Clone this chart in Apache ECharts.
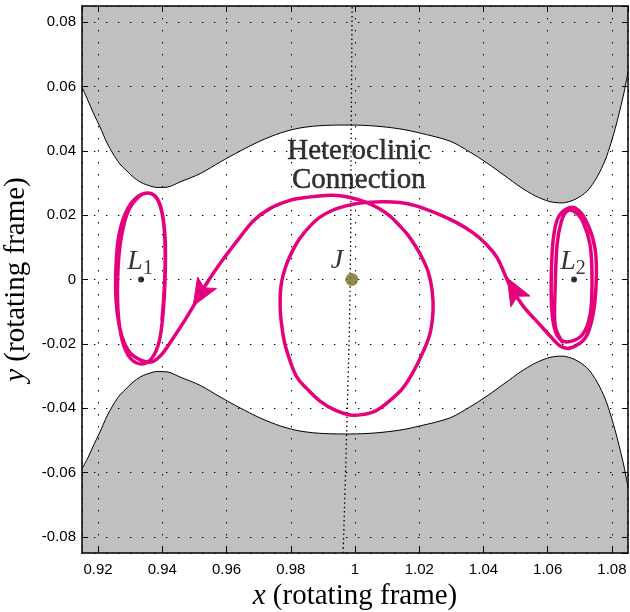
<!DOCTYPE html>
<html>
<head>
<meta charset="utf-8">
<script src="https://cdn.jsdelivr.net/npm/echarts@6/dist/echarts.min.js"></script>
<style>
  html, body { margin: 0; padding: 0; background: #fff; }
  #chart { width: 630px; height: 612px; }
</style>
</head>
<body>
<div id="chart"></div>
<script>
// Axis extents and tick spacing (rotating frame, normalized units)
const xRange = [0.915, 1.085];
const yRange = [-0.085, 0.085];
const tickStep = 0.02;

// Zero-velocity curve: forbidden-region boundaries
const zvcX = [0.915, 0.9169, 0.9187, 0.9206, 0.9228, 0.9247, 0.9268, 0.929, 0.9309, 0.9331,
  0.9352, 0.9384, 0.9415, 0.9455, 0.9518, 0.958, 0.9642, 0.9704, 0.9767, 0.9829,
  0.9907, 0.9985, 1.0062, 1.014, 1.0203, 1.0296, 1.0358, 1.0411, 1.0467, 1.0514,
  1.0561, 1.0607, 1.0645, 1.0685, 1.0723, 1.0754, 1.0779, 1.0797, 1.0813, 1.0825,
  1.0838, 1.085];
const zvcUpperY = [0.0598, 0.0555, 0.0514, 0.0474, 0.0424, 0.0390, 0.0359, 0.0337, 0.0319, 0.0303,
  0.0294, 0.0286, 0.0287, 0.0303, 0.0329, 0.0365, 0.0399, 0.0430, 0.0455, 0.0471,
  0.0479, 0.0480, 0.0477, 0.0468, 0.0455, 0.0430, 0.0396, 0.0362, 0.0322, 0.0288,
  0.0260, 0.0242, 0.0238, 0.0249, 0.0275, 0.0319, 0.0371, 0.0424, 0.0480, 0.0527,
  0.0583, 0.0645];
const zvcLowerY = [-0.0588, -0.0553, -0.0513, -0.0474, -0.0424, -0.0390, -0.0359, -0.0337, -0.0319, -0.0303,
  -0.0294, -0.0286, -0.0287, -0.0303, -0.0329, -0.0365, -0.0399, -0.0430, -0.0455, -0.0471,
  -0.0479, -0.0480, -0.0477, -0.0468, -0.0455, -0.0430, -0.0396, -0.0362, -0.0322, -0.0288,
  -0.0260, -0.0242, -0.0238, -0.0249, -0.0275, -0.0319, -0.0371, -0.0424, -0.0480, -0.0527,
  -0.0583, -0.0645];

// Dotted section line near the planet
const sectionX = [0.9963, 0.9975, 0.9985, 0.9988, 0.9991];
const sectionY = [-0.085, -0.0437, 0, 0.0433, 0.085];

// Heteroclinic trajectory: L2 orbit -> around Jupiter -> L1 orbit
const trajX = [
  1.0645, 1.0623,
  1.0623, 1.0629, 1.0642, 1.0660, 1.0685, 1.0710, 1.0732, 1.0738, 1.0732, 1.0707,
  1.0660, 1.0629, 1.0614, 1.0611, 1.0617, 1.0632, 1.0664, 1.0695, 1.0726, 1.0748,
  1.0751, 1.0741, 1.0717, 1.0670, 1.0639, 1.0608, 1.0576, 1.0523, 1.0483, 1.0443,
  1.0405, 1.0368, 1.0318, 1.0265, 1.0193, 1.0140, 1.0088, 1.0016, 0.9969, 0.9932,
  0.9891, 0.9860, 0.9829, 0.9807, 0.9785, 0.9770, 0.9767, 0.9773, 0.9785, 0.9817,
  0.9854, 0.9891, 0.9938, 0.9985, 1.0022, 1.0063, 1.0103, 1.0147, 1.0181, 1.0212,
  1.0234, 1.0243, 1.0240, 1.0228, 1.0209, 1.0190, 1.0165, 1.0140, 1.0109, 1.0072,
  1.0031, 0.9985, 0.9944, 0.9907, 0.9854, 0.9798, 0.9736, 0.9683, 0.9633, 0.9586,
  0.9539, 0.9499, 0.9465, 0.9430, 0.9399, 0.9368, 0.9331, 0.9293, 0.9269, 0.9256,
  0.9256, 0.9265, 0.9287, 0.9318, 0.9353, 0.9381, 0.9399, 0.9409, 0.9409, 0.9402,
  0.9390, 0.9368, 0.9337, 0.9300, 0.9275, 0.9262, 0.9262, 0.9272, 0.9293, 0.9325,
  0.9356, 0.9384, 0.9402, 0.9409, 0.9406, 0.9399];
const trajY = [
  -0.0194, -0.0141,
  -0.0033, 0.0107, 0.0179, 0.0213, 0.0210, 0.0179, 0.0107, -0.0002, -0.0110, -0.0173,
  -0.0194, -0.0173, -0.0110, -0.0002, 0.0123, 0.0191, 0.0222, 0.0216, 0.0169, 0.0092,
  -0.0008, -0.0110, -0.0182, -0.0213, -0.0207, -0.0176, -0.0141, -0.0082, -0.0020, 0.0067,
  0.0113, 0.0145, 0.0176, 0.0201, 0.0228, 0.0239, 0.0242, 0.0238, 0.0228, 0.0216,
  0.0194, 0.0166, 0.0129, 0.0092, 0.0042, -0.0017, -0.0086, -0.0151, -0.0213, -0.0300,
  -0.0343, -0.0378, -0.0406, -0.0421, -0.0420, -0.0409, -0.0381, -0.0340, -0.0288, -0.0225,
  -0.0166, -0.0095, -0.0033, 0.0023, 0.0067, 0.0101, 0.0138, 0.0166, 0.0197, 0.0222,
  0.0241, 0.0255, 0.0261, 0.0261, 0.0256, 0.0246, 0.0221, 0.0182, 0.0120, 0.0058,
  -0.0011, -0.0079, -0.0135, -0.0188, -0.0232, -0.0256, -0.0250, -0.0219, -0.0157, -0.0064,
  0.0045, 0.0138, 0.0210, 0.0253, 0.0269, 0.0256, 0.0210, 0.0123, 0.0014, -0.0110,
  -0.0194, -0.0244, -0.0263, -0.0244, -0.0188, -0.0095, 0.0030, 0.0129, 0.0210, 0.0256,
  0.0269, 0.0250, 0.0191, 0.0092, -0.0033, -0.0126];

// Direction arrows along the trajectory: [fromX, fromY, tipX, tipY]
const arrowHeads = [
  [0.9539, -0.0011, 0.9496, -0.0082],
  [1.0523, -0.0082, 1.0474, 0.0005]
];

// Libration points and the planet
const pointL1 = [0.9334, 0];
const pointL2 = [1.0682, 0];
const pointJ = [0.9990, 0];
const captionAnchor = [1.0012, 0.0353];
const captionText = 'Heteroclinic\nConnection';

const pink = '#e5007d';
const serif = 'Liberation Serif';
const sans = 'Liberation Sans';

const pairs = (xs, ys) => xs.map((x, i) => [x, ys[i]]);

const gridLine = { show: true, lineStyle: { color: '#000', width: 1, type: [1.4, 10.6] } };
const frameLine = { show: true, onZero: false, lineStyle: { color: '#000', width: 1.5 } };
const innerTick = { show: true, inside: true, length: 6, lineStyle: { color: '#000', width: 1 } };

// Smooth path through the projected trajectory points (Catmull-Rom as cubic Beziers)
function renderTrajectory(params, api) {
  const pts = trajX.map((x, i) => api.coord([x, trajY[i]]));
  let d = 'M' + pts[0][0] + ',' + pts[0][1];
  for (let i = 0; i < pts.length - 1; i++) {
    const p0 = pts[Math.max(i - 1, 0)], p1 = pts[i], p2 = pts[i + 1], p3 = pts[Math.min(i + 2, pts.length - 1)];
    const c1 = [p1[0] + (p2[0] - p0[0]) / 6, p1[1] + (p2[1] - p0[1]) / 6];
    const c2 = [p2[0] - (p3[0] - p1[0]) / 6, p2[1] - (p3[1] - p1[1]) / 6];
    d += 'C' + c1[0] + ',' + c1[1] + ',' + c2[0] + ',' + c2[1] + ',' + p2[0] + ',' + p2[1];
  }
  return {
    type: 'path',
    shape: { pathData: d },
    style: { fill: null, stroke: pink, lineWidth: 3.5, lineCap: 'round', lineJoin: 'round' }
  };
}

// Notched arrowhead whose tip sits on the trajectory, pointing along it
function renderArrow(params, api) {
  const a = api.coord([api.value(0), api.value(1)]);
  const b = api.coord([api.value(2), api.value(3)]);
  const len = Math.hypot(b[0] - a[0], b[1] - a[1]) || 1;
  const ux = (b[0] - a[0]) / len, uy = (b[1] - a[1]) / len;
  const nx = -uy, ny = ux;
  const L = 27, W = 11, notch = 21;
  const tip = b;
  const back1 = [tip[0] - ux * L + nx * W, tip[1] - uy * L + ny * W];
  const back2 = [tip[0] - ux * L - nx * W, tip[1] - uy * L - ny * W];
  const mid = [tip[0] - ux * notch, tip[1] - uy * notch];
  return {
    type: 'polygon',
    shape: { points: [tip, back1, mid, back2] },
    style: { fill: pink, stroke: pink, lineWidth: 1, lineJoin: 'miter' }
  };
}

function libLabel(sub) {
  return {
    show: true,
    position: 'top',
    distance: -2,
    offset: [-1, 0],
    formatter: '{a|L}{b|' + sub + '}',
    rich: {
      a: { fontFamily: serif, fontStyle: 'italic', fontSize: 28, lineHeight: 34, color: '#000' },
      b: { fontFamily: serif, fontSize: 20, lineHeight: 20, color: '#000', verticalAlign: 'bottom' }
    }
  };
}

const chart = echarts.init(document.getElementById('chart'));
chart.setOption({
  animation: false,
  backgroundColor: '#fff',
  grid: { left: 82, right: 2, top: 6, bottom: 59, containLabel: false, outerBoundsMode: 'none' },
  xAxis: [{
    type: 'value', position: 'bottom', min: xRange[0], max: xRange[1],
    minInterval: tickStep, maxInterval: tickStep, splitNumber: 8, z: 2,
    axisLine: frameLine, axisTick: innerTick, splitLine: gridLine,
    axisLabel: { showMinLabel: false, showMaxLabel: false, color: '#000', fontFamily: sans, fontSize: 15, margin: 9 },
    name: '{i|x} (rotating frame)', nameLocation: 'middle', nameGap: 21,
    nameTextStyle: { fontFamily: serif, fontSize: 29, color: '#000',
      rich: { i: { fontFamily: serif, fontStyle: 'italic', fontSize: 29, color: '#000' } } }
  }, {
    type: 'value', position: 'top', min: xRange[0], max: xRange[1],
    minInterval: tickStep, maxInterval: tickStep, splitNumber: 8, z: 2,
    axisLine: frameLine, axisTick: innerTick, splitLine: { show: false },
    axisLabel: { show: false }
  }],
  yAxis: [{
    type: 'value', position: 'left', min: yRange[0], max: yRange[1],
    minInterval: tickStep, maxInterval: tickStep, splitNumber: 8, z: 2,
    axisLine: frameLine, axisTick: innerTick, splitLine: gridLine,
    axisLabel: { showMinLabel: false, showMaxLabel: false, color: '#000', fontFamily: sans, fontSize: 15, margin: 6 },
    name: '{i|y} (rotating frame)', nameLocation: 'middle', nameGap: 43, nameRotate: 90,
    nameTextStyle: { fontFamily: serif, fontSize: 29, color: '#000',
      rich: { i: { fontFamily: serif, fontStyle: 'italic', fontSize: 29, color: '#000' } } }
  }, {
    type: 'value', position: 'right', min: yRange[0], max: yRange[1],
    minInterval: tickStep, maxInterval: tickStep, splitNumber: 8, z: 2,
    axisLine: frameLine, axisTick: innerTick, splitLine: { show: false },
    axisLabel: { show: false }
  }],
  series: [
    {
      type: 'line', z: 1, data: pairs(zvcX, zvcUpperY), showSymbol: false, smooth: 0.3,
      lineStyle: { color: '#000', width: 1 },
      areaStyle: { color: '#c0c0c0', opacity: 1, origin: 'end' }
    },
    {
      type: 'line', z: 1, data: pairs(zvcX, zvcLowerY), showSymbol: false, smooth: 0.3,
      lineStyle: { color: '#000', width: 1 },
      areaStyle: { color: '#c0c0c0', opacity: 1, origin: 'start' }
    },
    {
      type: 'line', z: 3, data: pairs(sectionX, sectionY), showSymbol: false, smooth: true,
      lineStyle: { color: '#000', width: 1.3, type: [1.5, 3] }
    },
    {
      type: 'custom', z: 4, coordinateSystem: 'cartesian2d',
      data: [[trajX[0], trajY[0]]],
      renderItem: renderTrajectory
    },
    {
      type: 'custom', z: 5, coordinateSystem: 'cartesian2d',
      data: arrowHeads,
      encode: { x: [0, 2], y: [1, 3] },
      renderItem: renderArrow
    },
    {
      type: 'scatter', z: 6, symbol: 'circle', symbolSize: 6,
      itemStyle: { color: '#000' },
      data: [
        { value: pointL1, label: libLabel('1') },
        { value: pointL2, label: libLabel('2') }
      ]
    },
    {
      type: 'scatter', z: 6, symbol: 'circle', symbolSize: 13,
      itemStyle: { color: '#7d6b1e' },
      data: [{ value: pointJ }],
      label: { show: true, position: 'left', offset: [3, -19], formatter: 'J',
        fontFamily: serif, fontStyle: 'italic', fontSize: 28, color: '#000' }
    },
    {
      type: 'scatter', z: 6, symbolSize: 0,
      data: [{ value: captionAnchor }],
      label: { show: true, position: 'inside', formatter: captionText,
        fontFamily: serif, fontSize: 29, lineHeight: 29, color: '#000', align: 'center',
        textBorderColor: '#000', textBorderWidth: 0.5 }
    }
  ]
});
</script>
</body>
</html>
